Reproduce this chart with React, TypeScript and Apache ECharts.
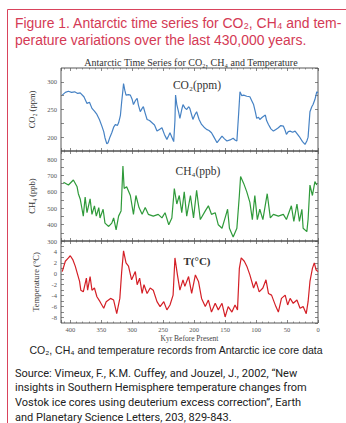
import { useEffect, useRef } from "react";
import * as echarts from "echarts";

// Kyr before present and values
const co2Kyr = [413,408,403,398,393,388,384,378,373,369,365,361,357,353,349,346,344,341,339,336,333,330,327,324,322,320,319,317,315,314,312,310,306,303,300,298,295,292,290,287,284,282,279,276,272,268,264,260,256,252,248,244,241,239,236,233,231,230,228,225,223,220,218,215,212,209,207,204,202,199,196,192,188,184,180,176,172,168,163,159,155,151,147,142,137,134,131,128,126,123,120,115,110,107,104,101,99,96,94,90,85,83,80,76,72,68,64,60,56,53,51,48,45,41,37,33,29,25,21,18,16,13,10,8,5,2,0];
const co2Ppm = [276,281,283,281,282,279,280,273,261,263,252,247,241,232,220,210,199,188,190,200,208,218,223,221,226,235,240,264,285,297,285,276,277,276,268,259,266,270,258,246,252,255,243,232,230,226,222,211,214,217,205,196,203,208,200,192,230,276,259,245,234,250,259,253,250,255,252,240,232,240,246,232,223,218,214,212,208,200,190,196,202,197,193,195,198,195,193,245,282,275,276,274,273,266,259,245,234,236,232,236,240,230,223,215,211,214,217,221,220,212,205,210,211,209,211,205,199,192,187,193,200,246,255,259,268,282,280];

const ch4Kyr = [411,403,395,389,387,384,381,379,376,373,368,365,361,358,354,352,347,344,338,333,330,326,322,318,315,313,309,303,298,294,289,284,279,274,266,258,252,247,241,236,232,228,224,220,216,212,206,201,196,190,182,177,172,166,161,155,150,146,143,137,131,127,125,120,115,110,106,102,98,94,89,82,77,72,64,56,51,43,39,34,30,26,24,18,16,13,9,5,2];
const ch4Ppb = [659,642,673,631,589,557,494,452,568,473,557,463,515,452,504,441,494,409,389,409,441,368,452,484,758,621,631,578,463,578,504,463,504,463,452,463,441,473,399,441,621,526,578,473,600,452,578,441,610,431,484,515,463,473,399,378,441,494,378,325,378,578,694,652,600,536,431,578,431,494,431,589,441,463,452,463,431,515,420,526,420,494,378,357,431,642,578,663,642];

const tempKyr = [413,408,403,400,396,392,388,385,383,379,374,372,368,365,361,357,352,346,342,335,330,325,320,317,314,310,306,301,295,292,288,284,281,276,271,266,260,255,249,244,239,234,231,227,223,218,215,209,204,198,193,188,182,177,172,166,161,155,150,145,139,134,130,127,124,119,115,110,104,100,95,89,84,80,75,68,64,59,53,49,45,40,34,29,24,19,16,13,9,6,3,0];
const tempC = [0.4,2.3,2.9,3.3,2.6,1.4,-0.2,-1.4,-3.0,-3.3,-0.8,-3.0,-0.5,-3.0,-2.6,-4.2,-5.1,-6.3,-5.1,-4.5,-4.8,-7.3,-4.5,0.4,4.2,2.0,1.4,-1.1,0.4,-2.0,-0.8,-3.6,-2.0,-3.6,-2.6,-3.0,-5.1,-6.0,-5.1,-6.6,-5.7,-3.9,2.9,-0.2,-3.0,-1.1,-2.3,-0.5,-3.6,-0.2,-1.4,-4.5,-6.0,-4.8,-7.0,-5.4,-6.6,-5.4,-7.9,-6.0,-7.0,-5.7,-6.6,1.0,2.9,2.3,1.4,-0.2,-2.6,-1.4,-3.3,-2.6,-1.1,-3.6,-3.9,-6.0,-7.0,-4.5,-3.9,-5.7,-4.5,-5.4,-4.8,-6.3,-6.0,-7.3,-5.1,-1.4,1.0,2.0,0.7,0.4];

const xTickStep = 50;
const sourceLines = [
  "Source: Vimeux, F., K.M. Cuffey, and Jouzel, J., 2002, \u201cNew",
  "insights in Southern Hemisphere temperature changes from",
  "Vostok ice cores using deuterium excess correction\u201d, Earth",
  "and Planetary Science Letters, 203, 829-843.",
];

const SERIF = "'Liberation Serif', 'DejaVu Serif', serif";
const SANS = "'Liberation Sans', Arial, sans-serif";

export default function App() {
  const ref = useRef<HTMLDivElement>(null);
  useEffect(() => {
    const chart = echarts.init(ref.current!, null, { renderer: "svg" });
    const grids = [
      { left: 61, top: 68, width: 257, height: 83 },
      { left: 61, top: 151, width: 257, height: 90 },
      { left: 61, top: 241, width: 257, height: 82 },
    ].map((g) => ({ ...g, show: true, borderColor: "#444", borderWidth: 0.9, backgroundColor: "transparent" }));

    const xAxes: any[] = [];
    const yAxes: any[] = [];
    const tickStyle = { show: true, inside: true, length: 3, lineStyle: { color: "#555", width: 0.7 } };
    const minor = { show: true, splitNumber: 5, length: 1.5, lineStyle: { color: "#555", width: 0.6 } };
    const noLine = { show: false, onZero: false };
    for (let i = 0; i < 3; i++) {
      xAxes.push({
        type: "value", gridIndex: i, min: 0, max: 415, interval: xTickStep, inverse: true, position: "bottom",
        axisLine: noLine, splitLine: { show: false }, axisTick: tickStyle, minorTick: minor,
        axisLabel: { show: i === 2, fontSize: 6.5, fontFamily: SERIF, color: "#555", margin: 3 },
        name: i === 2 ? "Kyr Before Present" : "", nameLocation: "middle", nameGap: 11,
        nameTextStyle: { fontSize: 7.5, fontFamily: SERIF, color: "#444" },
      });
      xAxes.push({
        type: "value", gridIndex: i, min: 0, max: 415, interval: xTickStep, inverse: true, position: "top",
        axisLine: noLine, splitLine: { show: false }, axisTick: tickStyle, minorTick: minor,
        axisLabel: { show: false },
      });
    }
    const yDefs = [
      { min: 175, max: 325, interval: 25, every: 50, name: "CO\u2082 (ppm)", showMin: false, showMax: false },
      { min: 300, max: 850, interval: 50, every: 100, name: "CH\u2084 (ppb)", showMin: true, showMax: false },
      { min: -9, max: 6, interval: 1, every: 2, name: "Temperature (\u00b0C)", showMin: false, showMax: false },
    ];
    yDefs.forEach((d, i) => {
      yAxes.push({
        type: "value", gridIndex: i, min: d.min, max: d.max, interval: d.interval, position: "left",
        axisLine: noLine, splitLine: { show: false }, axisTick: tickStyle,
        axisLabel: {
          fontSize: 6.5, fontFamily: SERIF, color: "#555", margin: 4, showMinLabel: d.showMin, showMaxLabel: d.showMax,
          formatter: (v: number) => (Math.abs(v % d.every) < 1e-6 ? String(v) : ""),
        },
        name: d.name, nameLocation: "middle", nameRotate: 90, nameGap: 20,
        nameTextStyle: { fontSize: 8.5, fontFamily: SERIF, color: "#333" },
      });
      yAxes.push({
        type: "value", gridIndex: i, min: d.min, max: d.max, interval: d.interval, position: "right",
        axisLine: noLine, splitLine: { show: false }, axisTick: tickStyle, axisLabel: { show: false },
      });
    });

    const mk = (xs: number[], ys: number[]) => xs.map((x, k) => [x, ys[k]]);
    const series = [
      { data: mk(co2Kyr, co2Ppm), color: "#4682c4", idx: 0 },
      { data: mk(ch4Kyr, ch4Ppb), color: "#2f9a3a", idx: 1 },
      { data: mk(tempKyr, tempC), color: "#d41f26", idx: 2 },
    ].map((s) => ({
      type: "line", xAxisIndex: s.idx * 2, yAxisIndex: s.idx * 2, data: s.data, showSymbol: false,
      lineStyle: { color: s.color, width: 1.2 }, itemStyle: { color: s.color }, silent: true,
    }));

    const txt = (x: number, y: number, text: string, font: string, fill: string, align = "left") => ({
      type: "text", x, y, style: { text, font, fill, align, verticalAlign: "middle" },
    });

    const graphic: any[] = [
      { type: "line", shape: { x1: 7.5, y1: 9.5, x2: 346, y2: 9.5 }, style: { stroke: "#d9435c", lineWidth: 1 } },
      { type: "line", shape: { x1: 7.5, y1: 9.5, x2: 7.5, y2: 423 }, style: { stroke: "#d9435c", lineWidth: 1 } },
      {
        type: "group", x: 15, y: 0, scaleX: 0.93, children: [
          txt(0, 23, "Figure 1. Antarctic time series for CO\u2082, CH\u2084 and tem-", `15px ${SANS}`, "#d43a55"),
          txt(0, 40, "perature variations over the last 430,000 years.", `15px ${SANS}`, "#d43a55"),
        ],
      },
      txt(191, 62, "Antarctic Time Series for CO\u2082, CH\u2084 and Temperature", `10px ${SERIF}`, "#333", "center"),
      txt(197, 85, "CO\u2082(ppm)", `11.5px ${SERIF}`, "#333", "center"),
      txt(198, 171, "CH\u2084(ppb)", `11.5px ${SERIF}`, "#333", "center"),
      txt(197, 261, "T(\u00b0C)", `bold 11px ${SERIF}`, "#333", "center"),
      txt(176, 350, "CO\u2082, CH\u2084 and temperature records from Antarctic ice core data", `10.5px ${SANS}`, "#222", "center"),
      ...sourceLines.map((t, k) => txt(15, 373 + k * 14.8, t, `11px Roboto, 'Noto Sans', sans-serif`, "#222")),
    ];

    chart.setOption({
      animation: false,
      backgroundColor: "#fff",
      grid: grids,
      xAxis: xAxes,
      yAxis: yAxes,
      series,
      graphic,
    });
    return () => chart.dispose();
  }, []);
  return <div ref={ref} style={{ position: "fixed", left: 0, top: 0, width: 346, height: 423, background: "#fff" }} />;
}
